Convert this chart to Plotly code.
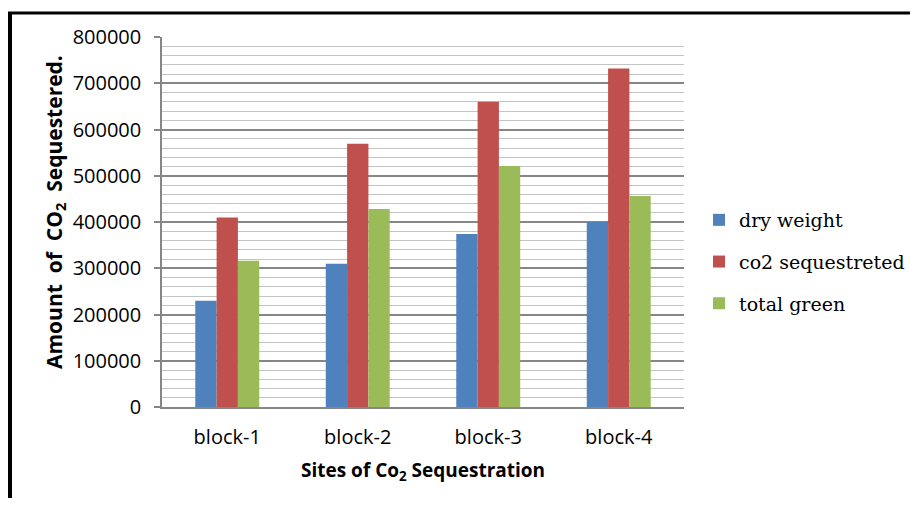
import plotly.graph_objects as go

categories = ["block-1", "block-2", "block-3", "block-4"]
dry_weight = [230000, 310000, 374000, 400000]
co2_sequestreted = [410000, 569000, 660000, 732000]
total_green = [316000, 428000, 521000, 456000]
series_names = ["dry weight", "co2 sequestreted", "total green"]
colors = ["#4F81BD", "#C0504D", "#9BBB59"]

OFF = 8  # browser body margin
W, H = 918 - OFF, 506 - 2 * OFF
# plot area in page pixels: x 162..684, y 37..407
L, T = 162 - OFF, 37 - OFF
R, B = W - (684 - OFF), H - (407 - OFF)
pw, ph = W - L - R, H - T - B

def px_x(p):
    return (p - OFF - L) / pw

def px_y(p):
    return (H - B - (p - OFF)) / ph

def cx(p):
    return (p - OFF) / W

def cy(p):
    return 1 - (p - OFF) / H

fig = go.Figure()
for i, (name, vals) in enumerate(zip(series_names, [dry_weight, co2_sequestreted, total_green])):
    fig.add_trace(go.Bar(
        x=categories, y=vals, name=name,
        marker=dict(color=colors[i], line=dict(width=0)),
        legendgroup=name,
    ))

fig.update_layout(
    width=W, height=H, autosize=False,
    margin=dict(l=L, r=R, t=T, b=B, pad=0, autoexpand=False),
    paper_bgcolor="white", plot_bgcolor="white",
    barmode="group", bargap=0.51, bargroupgap=0,
    font=dict(family="Open Sans", size=20, color="black"),
    legend=dict(
        xref="container", yref="container",
        x=cx(699), y=cy(262), xanchor="left", yanchor="middle",
        font=dict(family="DejaVu Serif", size=19, color="black"),
        tracegroupgap=14, bgcolor="rgba(0,0,0,0)",
    ),
    xaxis=dict(
        showline=True, linecolor="#868686", linewidth=1.5,
        showgrid=False, ticks="", tickfont=dict(size=20),
        ticklabelstandoff=11, automargin=False,
    ),
    yaxis=dict(
        range=[0, 800000], dtick=100000, tick0=0,
        showline=True, linecolor="#868686", linewidth=1.5,
        showgrid=True, gridcolor="#868686", gridwidth=1.5,
        ticks="outside", ticklen=6, tickcolor="#868686", tickwidth=1.5,
        tickformat="d", tickfont=dict(size=20),
        ticklabelstandoff=9, automargin=False,
        minor=dict(dtick=20000, tick0=0, showgrid=True, gridcolor="#C4C4C4", gridwidth=1.2, ticks=""),
        zeroline=False,
    ),
    showlegend=True,
)

fig.add_annotation(
    text="<b>Amount  of  CO<sub>2</sub>  Sequestered.</b>",
    x=px_x(55), y=px_y(212), xref="paper", yref="paper",
    textangle=-90, showarrow=False, xanchor="center", yanchor="middle",
    font=dict(family="Open Sans", size=21, color="black"),
)
fig.add_annotation(
    text="<b>Sites of Co<sub>2</sub> Sequestration</b>",
    x=px_x(423), y=px_y(471), xref="paper", yref="paper",
    showarrow=False, xanchor="center", yanchor="middle",
    font=dict(family="Open Sans", size=19, color="black"),
)

# outer frame
fig.add_shape(type="line", xref="paper", yref="paper",
              x0=px_x(8), x1=px_x(918), y0=px_y(13), y1=px_y(13),
              line=dict(color="black", width=3))
fig.add_shape(type="line", xref="paper", yref="paper",
              x0=px_x(10), x1=px_x(10), y0=px_y(12), y1=px_y(506),
              line=dict(color="black", width=4))

fig.write_html("out.html")
